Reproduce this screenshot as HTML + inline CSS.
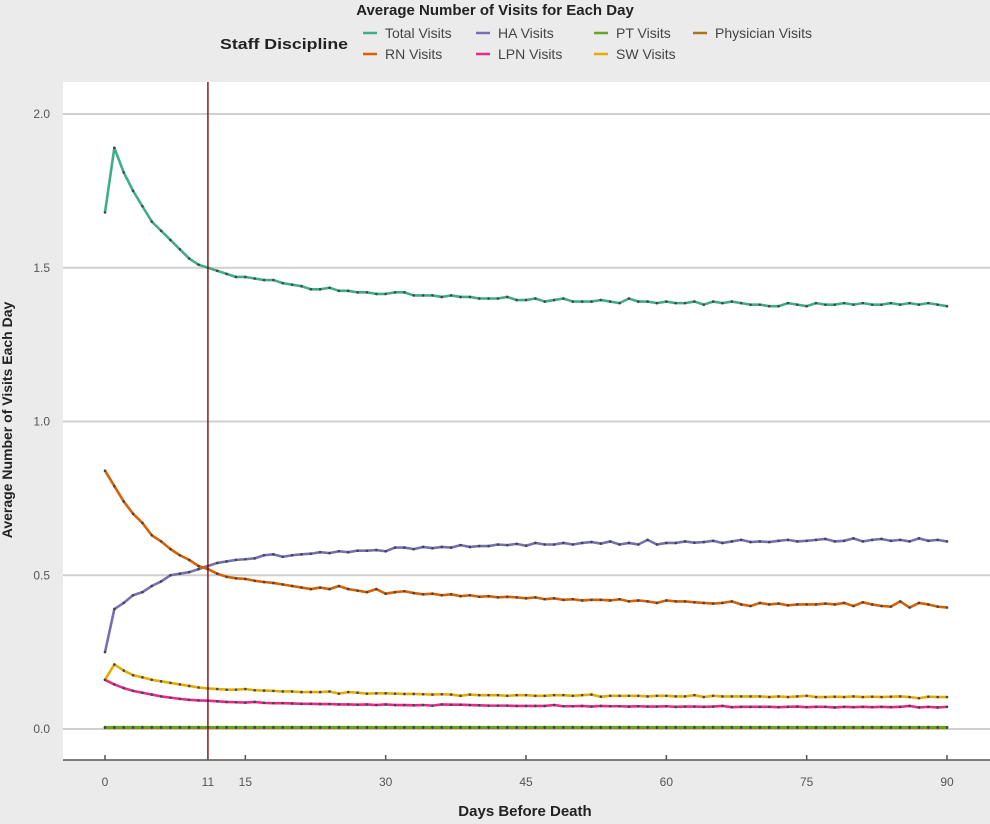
<!DOCTYPE html>
<html><head><meta charset="utf-8"><style>
body{margin:0;background:#ebebeb;font-family:"Liberation Sans",sans-serif;}
svg{display:block}
</style></head><body>
<svg width="990" height="824" id="c">
<rect x="0" y="0" width="990" height="824" fill="#ebebeb"/>
<rect x="63" y="82" width="927" height="678" fill="#ffffff"/>
<text x="495" y="15" text-anchor="middle" font-size="15" font-weight="bold" fill="#222">Average Number of Visits for Each Day</text>
<text x="220" y="49" font-size="15" font-weight="bold" fill="#222" textLength="128" lengthAdjust="spacingAndGlyphs">Staff Discipline</text>
<g id="legend"></g>
<g id="grid"></g><g id="series"></g><g id="axes"></g>
<text x="525" y="816" text-anchor="middle" font-size="15" font-weight="bold" fill="#222">Days Before Death</text>
<text transform="translate(12,420) rotate(-90)" text-anchor="middle" font-size="14" font-weight="bold" fill="#222">Average Number of Visits Each Day</text>
</svg>
<script>
const days = Array.from({length:91},(_,i)=>i);
const totalVisits=[1.68,1.89,1.81,1.75,1.70,1.65,1.62,1.59,1.56,1.53,
1.51,1.50,1.49,1.48,1.47,1.47,1.465,1.46,1.46,1.45,
1.445,1.44,1.43,1.43,1.435,1.425,1.425,1.42,1.42,1.415,
1.415,1.42,1.42,1.41,1.41,1.41,1.405,1.41,1.405,1.405,
1.40,1.40,1.40,1.405,1.395,1.395,1.40,1.39,1.395,1.40,
1.39,1.39,1.39,1.395,1.39,1.385,1.40,1.39,1.39,1.385,
1.39,1.385,1.385,1.39,1.38,1.39,1.385,1.39,1.385,1.38,
1.38,1.375,1.375,1.385,1.38,1.375,1.385,1.38,1.38,1.385,
1.38,1.385,1.38,1.38,1.385,1.38,1.385,1.38,1.385,1.38,1.375];
const rnVisits=[0.84,0.79,0.74,0.70,0.67,0.63,0.61,0.585,0.565,0.55,
0.53,0.52,0.505,0.495,0.49,0.488,0.482,0.478,0.475,0.47,
0.465,0.46,0.455,0.46,0.455,0.465,0.455,0.45,0.445,0.455,
0.44,0.445,0.448,0.442,0.438,0.44,0.435,0.438,0.432,0.435,
0.43,0.432,0.428,0.43,0.428,0.425,0.428,0.422,0.425,0.42,
0.422,0.418,0.42,0.42,0.418,0.422,0.415,0.418,0.415,0.41,
0.418,0.415,0.415,0.412,0.41,0.408,0.41,0.415,0.405,0.40,
0.41,0.405,0.408,0.402,0.405,0.405,0.405,0.408,0.405,0.41,
0.40,0.412,0.405,0.40,0.398,0.415,0.395,0.41,0.405,0.398,0.395];
const haVisits=[0.25,0.39,0.41,0.435,0.445,0.465,0.48,0.50,0.505,0.51,
0.52,0.53,0.54,0.545,0.55,0.552,0.555,0.565,0.568,0.56,
0.565,0.568,0.57,0.575,0.572,0.578,0.575,0.58,0.58,0.582,
0.578,0.59,0.59,0.585,0.592,0.588,0.592,0.59,0.598,0.592,
0.595,0.595,0.60,0.598,0.602,0.596,0.605,0.60,0.60,0.605,
0.60,0.605,0.608,0.603,0.61,0.60,0.605,0.60,0.615,0.60,
0.605,0.605,0.61,0.606,0.608,0.612,0.605,0.61,0.615,0.608,
0.61,0.608,0.612,0.615,0.61,0.612,0.615,0.618,0.61,0.612,
0.62,0.61,0.615,0.618,0.612,0.615,0.61,0.62,0.612,0.615,0.61];
const swVisits=[0.16,0.21,0.19,0.175,0.168,0.16,0.155,0.15,0.145,0.14,
0.135,0.132,0.13,0.128,0.128,0.13,0.126,0.125,0.124,0.122,
0.122,0.12,0.12,0.12,0.122,0.115,0.12,0.118,0.115,0.116,
0.116,0.115,0.114,0.114,0.113,0.112,0.113,0.112,0.108,0.112,
0.11,0.11,0.11,0.108,0.11,0.11,0.108,0.108,0.11,0.11,
0.108,0.11,0.112,0.105,0.108,0.108,0.108,0.108,0.106,0.108,
0.108,0.106,0.106,0.11,0.104,0.108,0.106,0.106,0.106,0.106,
0.106,0.104,0.106,0.104,0.106,0.108,0.104,0.104,0.105,0.104,
0.106,0.104,0.105,0.104,0.105,0.106,0.104,0.1,0.105,0.104,0.104];
const lpnVisits=[0.16,0.145,0.133,0.124,0.118,0.112,0.106,0.102,0.098,0.095,
0.093,0.092,0.09,0.088,0.087,0.086,0.088,0.085,0.084,0.084,
0.083,0.082,0.082,0.081,0.081,0.08,0.08,0.079,0.08,0.078,
0.08,0.078,0.078,0.077,0.078,0.076,0.08,0.079,0.079,0.078,
0.077,0.076,0.076,0.076,0.075,0.075,0.075,0.075,0.078,0.074,
0.074,0.075,0.073,0.075,0.074,0.074,0.073,0.074,0.073,0.073,
0.074,0.072,0.073,0.073,0.072,0.073,0.075,0.071,0.072,0.072,
0.072,0.072,0.071,0.072,0.073,0.071,0.072,0.072,0.07,0.072,
0.071,0.072,0.071,0.072,0.071,0.072,0.075,0.07,0.072,0.07,0.072];
const ptVisits=days.map(()=>0.006);
const physicianVisits=days.map(()=>0.004);
const yTicks=[0,0.5,1,1.5,2];
const yTickLabels=["0.0","0.5","1.0","1.5","2.0"];
const xTicks=[0,11,15,30,45,60,75,90];
const markerDay=11;

const NS="http://www.w3.org/2000/svg";
const xs=d=>105+d*(947-105)/90;
const ys=v=>729-v*(729-114)/2;
function mk(tag,attrs,parent){const e=document.createElementNS(NS,tag);for(const k in attrs)e.setAttribute(k,attrs[k]);parent.appendChild(e);return e;}
const grid=document.getElementById('grid'),ser=document.getElementById('series'),axes=document.getElementById('axes'),leg=document.getElementById('legend');
yTicks.forEach((t,i)=>{
 const l=mk('line',{x1:63,x2:990,y1:ys(t),y2:ys(t),stroke:'#cfcfcf','stroke-width':2},grid);
 
 
 const tx=mk('text',{x:50,y:ys(t)+4,'text-anchor':'end','font-size':12,fill:'#555'},axes);
 tx.textContent=yTickLabels[i];
 
 
});
const series=[
 ['physician-visits',physicianVisits,'#a6761d'],
 ['pt-visits',ptVisits,'#66a61e'],
 ['lpn-visits',lpnVisits,'#e7298a'],
 ['sw-visits',swVisits,'#e6ab02'],
 ['ha-visits',haVisits,'#7570b3'],
 ['rn-visits',rnVisits,'#d95f02'],
 ['total-visits',totalVisits,'#3fae86']];
series.forEach(([n,vals,c])=>{
 const g=mk('g',{},ser);
 
 
 const p=mk('polyline',{points:vals.map((v,i)=>xs(days[i])+','+ys(v)).join(' '),fill:'none',stroke:c,'stroke-width':2.6,'stroke-linejoin':'round'},g);
 
 
 vals.forEach((v,i)=>{
  const d=mk('circle',{cx:xs(days[i]),cy:ys(v),r:1.3,fill:'#444'},g);
  
  
 });
});
const vl=mk('line',{x1:xs(markerDay),x2:xs(markerDay),y1:82,y2:760,stroke:'#8b1a1a','stroke-width':1.5},axes);


const ax=mk('line',{x1:63,x2:990,y1:760,y2:760,stroke:'#555','stroke-width':1.5},axes);


xTicks.forEach(t=>{
 const tk=mk('line',{x1:xs(t),x2:xs(t),y1:755,y2:760,stroke:'#555','stroke-width':1.5},axes);
 
 
 const tx=mk('text',{x:xs(t),y:786,'text-anchor':'middle','font-size':12,fill:'#555'},axes);
 tx.textContent=String(t);
 
 
});
const legendItems=[['Total Visits','#3fae86',363,33],['HA Visits','#7570b3',476,33],['PT Visits','#66a61e',594,33],['Physician Visits','#a6761d',693,33],
['RN Visits','#d95f02',363,54],['LPN Visits','#e7298a',476,54],['SW Visits','#e6ab02',594,54]];
legendItems.forEach(([t,c,x,y])=>{
 const g=mk('g',{},leg);
 
 
 mk('line',{x1:x,x2:x+14,y1:y,y2:y,stroke:c,'stroke-width':2.5},g);
 const tx=mk('text',{x:x+22,y:y+5,'font-size':14,fill:'#444'},g);
 tx.textContent=t;
});
</script>
</body></html>
